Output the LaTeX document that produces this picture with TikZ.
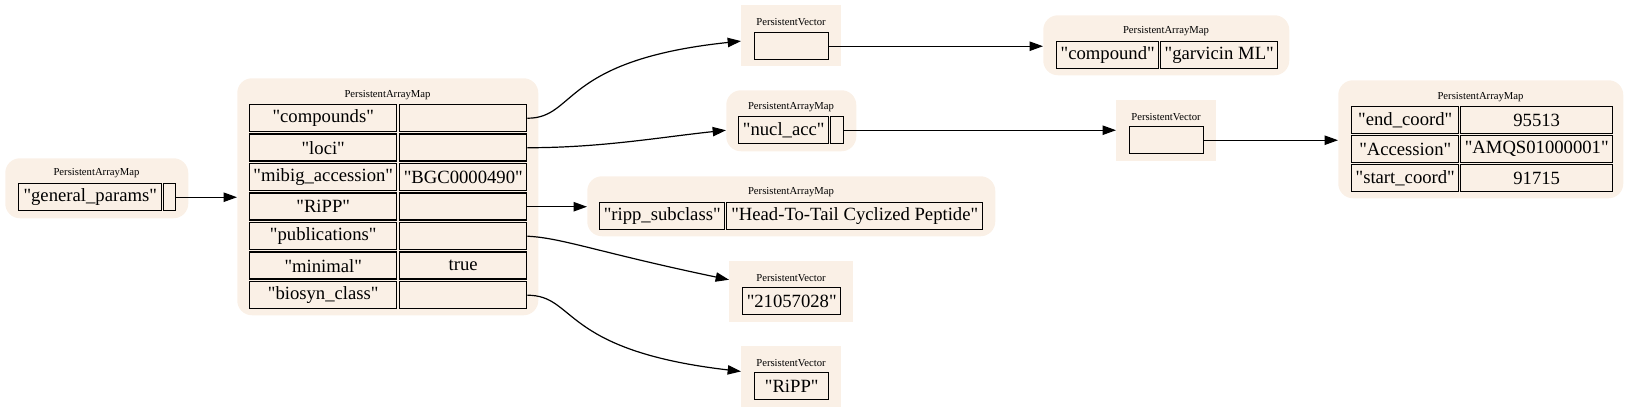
\documentclass[tikz,border=0pt]{standalone}
\usepackage{fontspec}
\setmainfont{Liberation Serif}[Ligatures=TeXOff]
\usetikzlibrary{arrows.meta}
\definecolor{linen}{HTML}{FAF0E6}

\begin{document}
\begin{tikzpicture}[ 
x=0.75pt, y=-0.75pt, 
map/.style 2 args={fill=linen, 
rounded corners=11pt, 
anchor=north west, 
inner sep=0pt, 
minimum width=#1*0.75pt, 
minimum height=#2*0.75pt}, 
vec/.style 2 args={fill=linen, 
anchor=north west, 
inner sep=0pt, 
minimum width=#1*0.75pt, 
minimum height=#2*0.75pt}, 
cell/.style={draw, 
fill=linen, 
line width=1.1pt, 
anchor=north west, 
inner sep=0pt, 
minimum width=#1*0.75pt, 
minimum height=20.25pt, 
font=\fontsize{14}{16}\selectfont}, 
title/.style={font=\fontsize{8}{9}\selectfont}, 
arrow/.style={-{Triangle[length=10pt, width=7pt]}, line width=0.9pt} 
]
\useasboundingbox (0,0) rectangle (1629,413);

\node[map={183}{60}] (gp) at (5,158) {};
\node[title] (gp-t) at (96.5,173) {PersistentArrayMap};
\node[cell=143] (gp-k) at (18,183) {"general\_params"};
\node[cell=12] (gp-v) at (163,183) {};

\node[map={301}{237}] (main) at (237,78) {};
\node[title] (main-t) at (387.5,95) {PersistentArrayMap};
\node[cell=147] (k-compounds) at (249,104) {"compounds"};
\node[cell=127] (v-compounds) at (399,104) {};
\node[cell=147] (k-loci) at (249,133.5) {"loci"};
\node[cell=127] (v-loci) at (399,133.5) {};
\node[cell=147] (k-mibig) at (249,163) {"mibig\_accession"};
\node[cell=127] (v-mibig) at (399,163) {"BGC0000490"};
\node[cell=147] (k-ripp) at (249,192.5) {"RiPP"};
\node[cell=127] (v-ripp) at (399,192.5) {};
\node[cell=147] (k-pub) at (249,222) {"publications"};
\node[cell=127] (v-pub) at (399,222) {};
\node[cell=147] (k-minimal) at (249,251.5) {"minimal"};
\node[cell=127] (v-minimal) at (399,251.5) {true};
\node[cell=147] (k-biosyn) at (249,281) {"biosyn\_class"};
\node[cell=127] (v-biosyn) at (399,281) {};

\node[vec={100}{61}] (pv-comp) at (741,5) {};
\node[title] (pv-comp-t) at (791,22) {PersistentVector};
\node[cell=74] (pv-comp-c) at (754,32) {};

\node[map={130}{61}] (nucl) at (726,90) {};
\node[title] (nucl-t) at (791,107) {PersistentArrayMap};
\node[cell=90] (nucl-k) at (738,116) {"nucl\_acc"};
\node[cell=13] (nucl-v) at (830,116) {};

\node[map={408}{60}] (ripp) at (587,176) {};
\node[title] (ripp-t) at (791,192) {PersistentArrayMap};
\node[cell=125] (ripp-k) at (599,202) {"ripp\_subclass"};
\node[cell=256] (ripp-v) at (726,202) {"Head-To-Tail Cyclized Peptide"};

\node[vec={124}{61}] (pub) at (729,261) {};
\node[title] (pub-t) at (791,278) {PersistentVector};
\node[cell=98] (pub-c) at (742,287) {"21057028"};

\node[vec={100}{61}] (bio) at (741,346) {};
\node[title] (bio-t) at (791,363) {PersistentVector};
\node[cell=74] (bio-c) at (754,372) {"RiPP"};

\node[map={246}{60}] (comp) at (1043,15) {};
\node[title] (comp-t) at (1166,31) {PersistentArrayMap};
\node[cell=102] (comp-k) at (1056,41) {"compound"};
\node[cell=117] (comp-v) at (1160,41) {"garvicin ML"};

\node[vec={100}{61}] (pv-loci) at (1116,100) {};
\node[title] (pv-loci-t) at (1166,117) {PersistentVector};
\node[cell=74] (pv-loci-c) at (1129,126) {};

\node[map={285}{118}] (coord) at (1338,80) {};
\node[title] (coord-t) at (1480.5,97) {PersistentArrayMap};
\node[cell=107] (k-end) at (1351,106) {"end\_coord"};
\node[cell=152] (v-end) at (1460,106) {95513};
\node[cell=107] (k-acc) at (1351,135) {"Accession"};
\node[cell=152] (v-acc) at (1460,135) {"AMQS01000001"};
\node[cell=107] (k-start) at (1351,164) {"start\_coord"};
\node[cell=152] (v-start) at (1460,164) {91715};

\draw[arrow] (gp-v.east) -- (gp-v.east -| main.west);
\draw[arrow] (v-compounds.east) .. controls +(49,0) and +(-181,19) .. ([yshift=-4pt]pv-comp.west);
\draw[arrow] (v-loci.east) .. controls +(74,0) and +(-66,7) .. (nucl-k.west -| nucl.west);
\draw[arrow] (v-ripp.east) -- (v-ripp.east -| ripp.west);
\draw[arrow] (v-pub.east) .. controls +(34,1.5) and +(-129,-27) .. ([yshift=9pt]pub.west);
\draw[arrow] (v-biosyn.east) .. controls +(49,0) and +(-181,-21) .. ([yshift=4pt]bio.west);
\draw[arrow] (pv-comp-c.east) -- (pv-comp-c.east -| comp.west);
\draw[arrow] (nucl-v.east) -- (nucl-v.east -| pv-loci.west);
\draw[arrow] (pv-loci-c.east) -- (pv-loci-c.east -| coord.west);

\end{tikzpicture}
\end{document}
